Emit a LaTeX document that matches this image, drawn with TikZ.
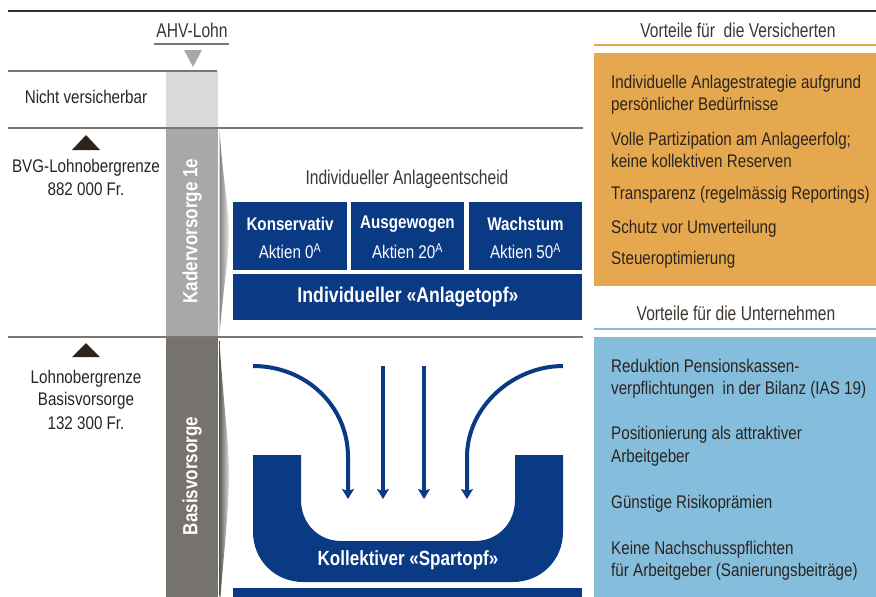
\documentclass[tikz,border=0pt]{standalone}
\usepackage{fontspec}
\setmainfont{Liberation Sans}[FakeStretch=0.83]
\newfontfamily\thinfont{Liberation Sans}[FakeStretch=0.78]
\usetikzlibrary{arrows.meta}
\definecolor{topline}{HTML}{3A3029}
\definecolor{rule}{HTML}{7D766F}
\definecolor{barlight}{HTML}{DADADA}
\definecolor{barmid}{HTML}{A8A8A8}
\definecolor{bardark}{HTML}{76726D}
\definecolor{navy}{HTML}{0B3A84}
\definecolor{orangebox}{HTML}{E6A84F}
\definecolor{bluebox}{HTML}{85BDDD}
\definecolor{ink}{HTML}{2B241E}
\definecolor{titleink}{HTML}{3D3630}
\definecolor{trigray}{HTML}{A8A8A8}
\begin{document}
\begin{tikzpicture}[x=1pt,y=-1pt,
  body/.style={text=ink,inner sep=0pt,font=\fontsize{18.3}{22}\selectfont},
  item/.style={body,anchor=base west},
  ctext/.style={body,anchor=center},
  ttl/.style={text=titleink,inner sep=0pt,font=\thinfont\fontsize{20}{24}\selectfont},
  boxlbl/.style={text=white,inner sep=0pt,font=\bfseries\fontsize{18.3}{22}\selectfont},
  boxsub/.style={text=white,inner sep=0pt,font=\fontsize{18.3}{22}\selectfont},
  barlbl/.style={text=white,inner sep=0pt,rotate=90,font=\bfseries\fontsize{20.5}{24}\selectfont},
  flow/.style={navy,line width=4pt,-{Stealth[length=10pt,width=12pt,inset=2pt]}}
]
\useasboundingbox (0,0) rectangle (876,597);

% top rule
\draw[topline,line width=2.5pt] (8,11) -- (876,11);

% column bar
\fill[barlight] (166,71) rectangle (218,128);
\fill[barmid] (166,128) rectangle (218,337);
\fill[bardark] (166,337) rectangle (218,597);

% AHV-Lohn header
\node[ttl] (ahv) at (192,30) {AHV-Lohn};
\draw[rule,line width=1.5pt] (154,44) -- (229,44);
\fill[trigray] (184,50) -- (202,50) -- (193,67) -- cycle;

% horizontal rules
\draw[rule,line width=1.5pt] (8,71) -- (217,71);
\draw[rule,line width=1.5pt] (8,128) -- (583,128);
\draw[rule,line width=1.5pt] (8,337) -- (583,337);

% left labels
\node[ctext] (nicht) at (86,97) {Nicht versicherbar};
\fill[ink] (72,150) -- (100,150) -- (86,135) -- cycle;
\node[ctext] (bvg1) at (86,168) {BVG-Lohnobergrenze};
\node[ctext] (bvg2) at (86,189) {882 000 Fr.};
\fill[ink] (72,357) -- (100,357) -- (86,343) -- cycle;
\node[ctext] (lo1) at (86,379) {Lohnobergrenze};
\node[ctext] (lo2) at (86,401) {Basisvorsorge};
\node[ctext] (lo3) at (86,423) {132 300 Fr.};

% bar labels
\node[barlbl] (kader) at (192,231) {Kadervorsorge 1e};
\node[barlbl] (basis) at (192,476) {Basisvorsorge};

% spikes
\shade[left color=black!50,right color=black!8]
  (219.5,130) .. controls (223,180) and (229,210) .. (229,233)
  .. controls (229,256) and (223,290) .. (219.5,335) -- cycle;
\shade[left color=black!65,right color=black!12]
  (219.5,341) .. controls (223,400) and (229,440) .. (229,475)
  .. controls (229,510) and (223,560) .. (219.5,610) -- cycle;

% individual investment
\node[ttl] (entscheid) at (407,179) {Individueller Anlageentscheid};
\fill[navy] (233,202) rectangle (347,270);
\fill[navy] (351,202) rectangle (464,270);
\fill[navy] (469,202) rectangle (582,270);
\node[boxlbl] (k1) at (290,224) {Konservativ};
\node[boxsub] (k2) at (290,251) {Aktien 0\textsuperscript{A}};
\node[boxlbl] (a1) at (407.5,224) {Ausgewogen};
\node[boxsub] (a2) at (407.5,251) {Aktien 20\textsuperscript{A}};
\node[boxlbl] (w1) at (525.5,224) {Wachstum};
\node[boxsub] (w2) at (525.5,251) {Aktien 50\textsuperscript{A}};
\fill[navy] (233,274) rectangle (582,320);
\node[boxlbl,font=\bfseries\fontsize{21.3}{24}\selectfont] (topf) at (408,297) {Individueller «Anlagetopf»};

% collective pot
\fill[navy] (253,455) -- (301,455) -- (301,500)
  .. controls (301,523) and (318,541) .. (341,541) -- (475,541)
  .. controls (498,541) and (515,523) .. (515,500) -- (515,455) -- (563,455) -- (563,532)
  .. controls (563,560) and (541,582) .. (513,582) -- (303,582)
  .. controls (275,582) and (253,560) .. (253,532) -- cycle;
\node[boxlbl,font=\bfseries\fontsize{20.5}{24}\selectfont] (spar) at (408,560) {Kollektiver «Spartopf»};
\fill[navy] (233,588) rectangle (582,597);

% flow arrows
\coordinate (f1s) at (253,366); \coordinate (f1e) at (348,499);
\coordinate (f2s) at (383,366); \coordinate (f2e) at (383,499);
\coordinate (f3s) at (424,366); \coordinate (f3e) at (424,499);
\coordinate (f4s) at (563,366); \coordinate (f4e) at (467,499);
\draw[flow] (f1s) .. controls (306,366) and (348,406) .. (348,457) -- (f1e);
\draw[flow] (f2s) -- (f2e);
\draw[flow] (f3s) -- (f3e);
\draw[flow] (f4s) .. controls (514,366) and (467,406) .. (467,457) -- (f4e);

% right panel: insured
\node[ttl] (vv) at (738,30) {Vorteile für~ die Versicherten};
\draw[orangebox,line width=2pt] (594,45) -- (876,45);
\fill[orangebox] (594,53) rectangle (876,286);
\node[item] (v1a) at (611,88) {Individuelle Anlagestrategie aufgrund};
\node[item] (v1b) at (611,110) {persönlicher Bedürfnisse};
\node[item] (v2a) at (611,145) {Volle Partizipation am Anlageerfolg;};
\node[item] (v2b) at (611,167) {keine kollektiven Reserven};
\node[item] (v3) at (611,199) {Transparenz (regelmässig Reportings)};
\node[item] (v4) at (611,233) {Schutz vor Umverteilung};
\node[item] (v5) at (611,264) {Steueroptimierung};

% right panel: company
\node[ttl] (vu) at (736,313) {Vorteile für die Unternehmen};
\draw[bluebox,line width=2pt] (594,329) -- (876,329);
\fill[bluebox] (594,337) rectangle (876,597);
\node[item] (u1a) at (611,372) {Reduktion Pensionskassen-};
\node[item] (u1b) at (611,394) {verpflichtungen~ in der Bilanz (IAS 19)};
\node[item] (u2a) at (611,439) {Positionierung als attraktiver};
\node[item] (u2b) at (611,462) {Arbeitgeber};
\node[item] (u3) at (611,508) {Günstige Risikoprämien};
\node[item] (u4a) at (611,554) {Keine Nachschusspflichten};
\node[item] (u4b) at (611,576) {für Arbeitgeber (Sanierungsbeiträge)};
\end{tikzpicture}
\end{document}
